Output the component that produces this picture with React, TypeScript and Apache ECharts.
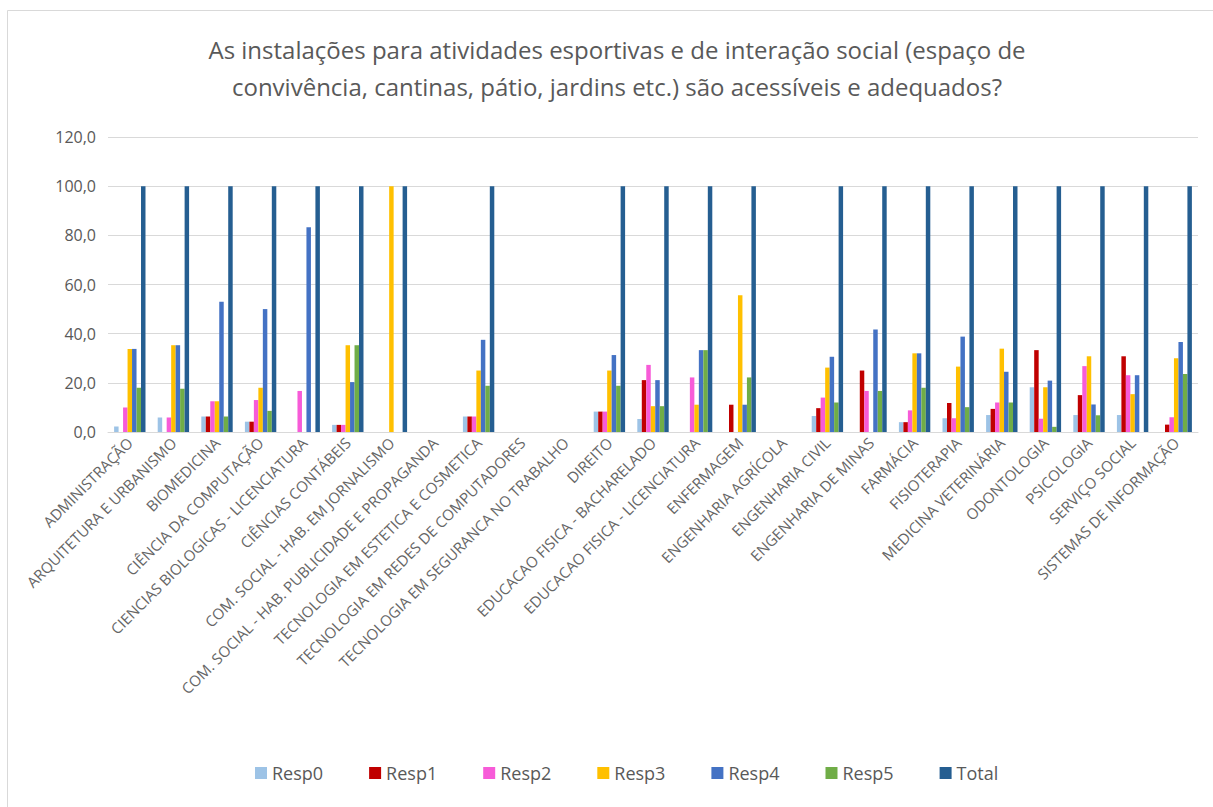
import React, { useEffect, useRef } from "react";
import * as echarts from "echarts";

const categories = [
  "ADMINISTRAÇÃO",
  "ARQUITETURA E URBANISMO",
  "BIOMEDICINA",
  "CIÊNCIA DA COMPUTAÇÃO",
  "CIENCIAS BIOLOGICAS - LICENCIATURA",
  "CIÊNCIAS CONTÁBEIS",
  "COM. SOCIAL - HAB. EM JORNALISMO",
  "COM. SOCIAL - HAB. PUBLICIDADE E PROPAGANDA",
  "TECNOLOGIA EM ESTETICA E COSMETICA",
  "TECNOLOGIA EM REDES DE COMPUTADORES",
  "TECNOLOGIA EM SEGURANCA NO TRABALHO",
  "DIREITO",
  "EDUCACAO FISICA - BACHARELADO",
  "EDUCACAO FISICA - LICENCIATURA",
  "ENFERMAGEM",
  "ENGENHARIA AGRÍCOLA",
  "ENGENHARIA CIVIL",
  "ENGENHARIA DE MINAS",
  "FARMÁCIA",
  "FISIOTERAPIA",
  "MEDICINA VETERINÁRIA",
  "ODONTOLOGIA",
  "PSICOLOGIA",
  "SERVIÇO SOCIAL",
  "SISTEMAS DE INFORMAÇÃO",
];

const resp0 = [2.2, 5.9, 6.3, 4.2, 0, 2.9, 0, 0, 6.3, 0, 0, 8.3, 5.3, 0, 0, 0, 6.5, 0, 4.0, 5.6, 6.9, 18.2, 6.9, 6.9, 0];
const resp1 = [0, 0, 6.3, 4.2, 0, 2.9, 0, 0, 6.3, 0, 0, 8.3, 21.1, 0, 11.1, 0, 9.7, 25.0, 4.0, 11.8, 9.4, 33.3, 15.0, 30.8, 3.0];
const resp2 = [10.0, 5.9, 12.5, 13.0, 16.7, 2.9, 0, 0, 6.3, 0, 0, 8.3, 27.3, 22.2, 0, 0, 14.0, 16.7, 8.8, 5.6, 12.0, 5.4, 26.8, 23.1, 6.0];
const resp3 = [33.8, 35.3, 12.5, 18.0, 0, 35.3, 100, 0, 25.0, 0, 0, 25.0, 10.5, 11.1, 55.6, 0, 26.2, 0, 32.0, 26.6, 33.9, 18.2, 30.8, 15.4, 30.0];
const resp4 = [33.8, 35.3, 53.0, 50.0, 83.3, 20.3, 0, 0, 37.5, 0, 0, 31.3, 21.1, 33.3, 11.1, 0, 30.6, 41.7, 32.0, 38.8, 24.5, 20.9, 11.2, 23.1, 36.6];
const resp5 = [18.0, 17.6, 6.3, 8.6, 0, 35.3, 0, 0, 18.8, 0, 0, 18.8, 10.5, 33.3, 22.2, 0, 12.0, 16.7, 18.0, 10.1, 12.0, 2.1, 6.8, 0, 23.6];
const total = [100, 100, 100, 100, 100, 100, 100, 0, 100, 0, 0, 100, 100, 100, 100, 0, 100, 100, 100, 100, 100, 100, 100, 100, 100];

const seriesNames = ["Resp0", "Resp1", "Resp2", "Resp3", "Resp4", "Resp5", "Total"];
const seriesData = [resp0, resp1, resp2, resp3, resp4, resp5, total];
const seriesColors = ["#9DC3E6", "#C00000", "#F75BD8", "#FFC000", "#4472C4", "#70AD47", "#255E91"];

const titleText =
  "As instalações para atividades esportivas e de interação social (espaço de\nconvivência, cantinas, pátio, jardins etc.) são acessíveis e adequados?";

export default function App() {
  const ref = useRef<HTMLDivElement>(null);
  useEffect(() => {
    if (!ref.current) return;
    const chart = echarts.init(ref.current, null, { renderer: "svg" });
    const font = "'Open Sans', 'Noto Sans', sans-serif";
    chart.setOption({
      animation: false,
      backgroundColor: "#ffffff",
      textStyle: { fontFamily: font },
      title: {
        text: titleText,
        left: 612,
        top: 26,
        textAlign: "center",
        textStyle: {
          fontFamily: font,
          fontSize: 24,
          fontWeight: "normal",
          color: "#595959",
          lineHeight: 37,
        },
      },
      graphic: [
        {
          type: "rect",
          shape: { x: 7.5, y: 10.5, width: 1220, height: 810 },
          style: { fill: "none", stroke: "#D9D9D9", lineWidth: 1 },
          silent: true,
        },
      ],
      legend: {
        bottom: 20,
        left: 250,
        icon: "rect",
        itemWidth: 12,
        itemHeight: 12,
        itemGap: 46,
        textStyle: { fontFamily: font, fontSize: 18, color: "#595959" },
        data: seriesNames,
      },
      grid: { left: 108, right: 15, top: 137, bottom: 375, containLabel: false },
      xAxis: {
        type: "category",
        data: categories,
        axisLine: { lineStyle: { color: "#D9D9D9" } },
        axisTick: { show: false },
        axisLabel: {
          rotate: 45,
          interval: 0,
          fontSize: 15,
          color: "#666666",
          fontFamily: font,
          margin: 8,
        },
      },
      yAxis: {
        type: "value",
        min: 0,
        max: 120,
        interval: 20,
        axisLine: { show: false },
        axisTick: { show: false },
        splitLine: { lineStyle: { color: "#D9D9D9" } },
        axisLabel: {
          fontSize: 16,
          color: "#595959",
          fontFamily: font,
          margin: 12,
          formatter: (v: number) => v.toFixed(1).replace(".", ","),
        },
      },
      series: seriesNames.map((name, i) => ({
        name,
        type: "bar",
        data: seriesData[i],
        barGap: "0%",
        barCategoryGap: "28%",
        itemStyle: { color: seriesColors[i] },
      })),
    });
    return () => chart.dispose();
  }, []);
  return (
    <div
      ref={ref}
      style={{ position: "fixed", left: 0, top: 0, width: 1213, height: 807 }}
    />
  );
}
